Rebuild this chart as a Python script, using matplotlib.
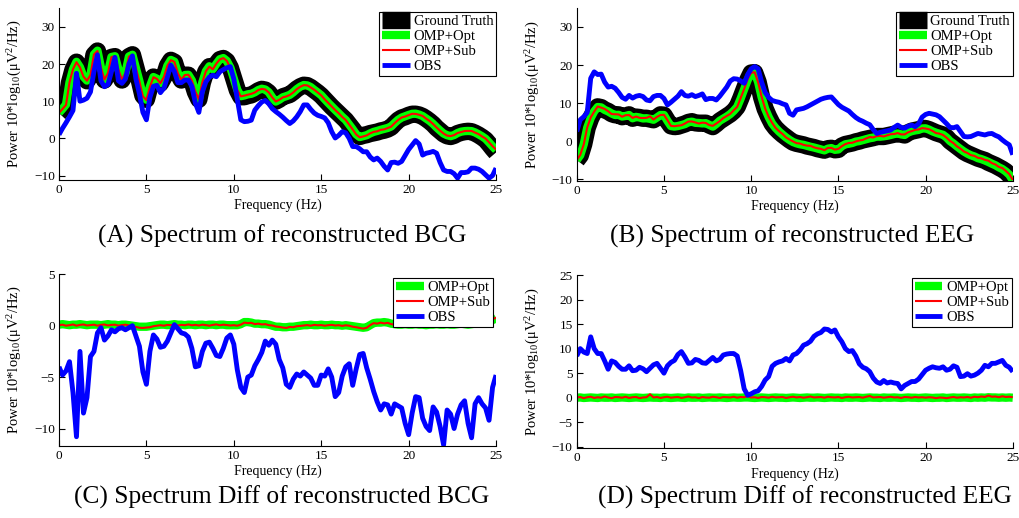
import numpy as np
import matplotlib
matplotlib.use('Agg')
import matplotlib.pyplot as plt

plt.rcParams['font.family'] = ['Liberation Serif', 'DejaVu Serif']
plt.rcParams['mathtext.fontset'] = 'custom'
plt.rcParams['mathtext.rm'] = 'Liberation Serif'
plt.rcParams['mathtext.it'] = 'Liberation Serif:italic'

# frequency axis, 0.2 Hz steps from 0 to 25 Hz
freq = np.arange(126) * 0.2

# (A) BCG spectrum, dB
gt_bcg = [6.8, 7.8, 9.0, 15.0, 18.5, 20.5, 19.0, 16.5, 15.5, 17.0,
          22.5, 23.5, 19.0, 15.7, 17.5, 21.8, 22.0, 18.5, 15.7, 17.5,
          22.0, 22.5, 19.0, 15.5, 11.5, 10.5, 14.0, 16.5, 16.0, 14.8,
          16.5, 19.5, 21.0, 20.5, 17.5, 15.7, 17.0, 17.0, 15.5, 12.5,
          10.5, 15.0, 18.0, 19.3, 18.5, 20.0, 21.2, 21.5, 20.8, 19.0,
          16.0, 13.0, 11.2, 11.2, 11.5, 11.7, 12.2, 12.8, 13.2, 13.0,
          12.3, 11.0, 10.0, 10.5, 11.2, 11.5, 11.8, 12.5, 13.3, 13.9,
          14.3, 14.2, 13.7, 13.0, 12.3, 11.5, 10.5, 9.5, 8.5, 7.6,
          6.7, 5.8, 4.9, 3.7, 2.5, 1.2, 0.5, 0.8, 1.0, 1.3,
          1.5, 1.7, 2.0, 2.2, 2.5, 3.0, 4.0, 4.9, 5.5, 5.8,
          6.2, 6.5, 6.5, 6.3, 5.9, 5.3, 4.6, 3.8, 2.8, 2.0,
          1.2, 0.7, 0.5, 0.8, 1.3, 1.6, 1.8, 1.9, 1.8, 1.4,
          0.9, 0.3, -0.4, -1.5, -2.7, -3.8]
obs_bcg = [1.0, 2.7, 4.2, 5.8, 7.5, 17.5, 10.0, 10.3, 10.8, 12.5,
           18.0, 22.5, 15.5, 13.9, 14.5, 18.0, 21.8, 15.5, 14.8, 16.0,
           20.0, 22.2, 16.0, 12.0, 7.0, 5.0, 11.0, 14.0, 14.3, 12.3,
           13.5, 16.5, 19.7, 18.0, 15.0, 15.0, 15.7, 15.7, 14.0, 9.5,
           7.0, 12.5, 15.2, 16.5, 17.0, 16.6, 17.9, 18.5, 19.0, 19.3,
           16.0, 10.5, 5.0, 4.5, 4.6, 4.9, 7.6, 8.8, 9.8, 10.2,
           9.3, 8.0, 7.2, 6.5, 5.7, 4.8, 4.0, 4.7, 5.8, 7.2,
           9.0, 9.0, 7.8, 6.8, 6.2, 5.9, 5.5, 4.2, 1.8, 0.1,
           0.8, 1.8, 1.5, 0.0, -2.2, -2.2, -2.8, -3.6, -3.6, -5.0,
           -5.8, -5.3, -6.2, -7.5, -8.5, -6.5, -6.4, -6.7, -6.2, -4.6,
           -3.0, -1.8, -0.6, -1.5, -4.5, -4.0, -3.8, -3.5, -4.0, -6.5,
           -8.5, -8.9, -8.9, -9.5, -10.7, -9.2, -9.2, -9.0, -8.0, -8.0,
           -8.3, -8.9, -9.8, -10.7, -10.0, -8.0]

# (B) EEG spectrum, dB
gt_eeg = [-5.0, -3.8, -0.8, 3.5, 6.0, 7.8, 9.0, 8.8, 8.2, 7.8,
          7.2, 6.9, 6.9, 6.4, 6.6, 6.9, 6.0, 6.3, 6.2, 6.0,
          6.0, 5.8, 5.6, 6.2, 6.9, 6.8, 5.3, 4.0, 3.8, 3.9,
          4.2, 4.5, 4.9, 5.1, 4.8, 4.7, 4.7, 4.7, 4.2, 3.8,
          4.5, 5.3, 5.9, 6.5, 7.1, 7.9, 9.0, 11.2, 13.6, 16.0,
          17.9, 18.0, 15.5, 11.5, 8.5, 6.4, 4.6, 3.4, 2.5, 1.7,
          1.0, 0.3, -0.3, -0.6, -0.8, -1.0, -1.3, -1.5, -1.7, -2.0,
          -2.2, -2.4, -2.0, -1.9, -2.3, -2.2, -1.3, -0.9, -0.7, -0.5,
          -0.2, 0.0, 0.3, 0.5, 0.7, 0.9, 1.2, 1.2, 1.2, 1.4,
          1.6, 1.8, 2.0, 1.8, 1.6, 2.2, 2.6, 2.8, 3.0, 3.3,
          3.3, 3.0, 2.6, 2.2, 1.9, 1.6, 1.0, 0.0, -0.7, -1.4,
          -2.1, -2.8, -3.3, -3.7, -4.1, -4.5, -4.8, -5.1, -5.6, -6.0,
          -6.4, -6.9, -7.4, -8.0, -8.9, -10.3]
obs_eeg = [2.5, 5.6, 6.4, 7.5, 16.5, 18.2, 17.5, 17.6, 15.5, 14.2,
           14.4, 13.9, 12.8, 11.5, 11.0, 12.0, 11.3, 11.8, 12.0, 11.7,
           10.8, 10.6, 11.7, 12.0, 12.0, 11.2, 9.5, 10.2, 11.0, 11.8,
           13.0, 12.0, 11.8, 12.2, 11.7, 12.0, 12.4, 10.9, 11.2, 11.2,
           10.8, 11.8, 13.0, 14.2, 15.8, 16.4, 16.3, 15.8, 15.2, 17.5,
           19.0, 19.6, 19.0, 15.5, 12.8, 11.5, 10.7, 10.4, 10.2, 9.8,
           9.5, 7.3, 6.8, 8.2, 8.4, 8.6, 9.0, 9.5, 10.0, 10.5,
           11.0, 11.3, 11.5, 11.6, 10.6, 9.6, 8.9, 8.4, 7.9, 7.0,
           6.2, 5.6, 5.2, 4.7, 4.3, 3.0, 2.0, 2.3, 2.5, 2.7,
           2.9, 3.6, 4.2, 3.6, 3.4, 3.9, 4.2, 3.8, 4.5, 6.3,
           7.0, 7.3, 7.1, 6.9, 6.4, 5.5, 4.6, 3.6, 3.5, 3.8,
           2.5, 1.2, 1.1, 1.2, 1.6, 2.0, 1.8, 1.6, 1.9, 2.0,
           1.5, 1.1, 0.3, -0.4, -1.0, -3.6]

# (C) differences to ground truth, BCG
opt_diff_bcg = [0.10, 0.15, 0.10, 0.05, 0.10, 0.10, 0.15, 0.10, 0.05, 0.10,
                0.10, 0.10, 0.05, 0.10, 0.15, 0.10, 0.10, 0.05, 0.10, 0.10,
                0.05, 0.00, -0.05, -0.10, -0.10, -0.10, -0.05, 0.00, 0.05, 0.10,
                0.10, 0.05, 0.10, 0.15, 0.10, 0.10, 0.05, 0.10, 0.10, 0.05,
                0.10, 0.10, 0.05, 0.10, 0.10, 0.05, 0.10, 0.10, 0.05, 0.05,
                0.05, 0.05, 0.15, 0.35, 0.35, 0.30, 0.20, 0.20, 0.15, 0.15,
                0.10, 0.00, -0.10, -0.10, -0.15, -0.15, -0.10, -0.10, -0.05, 0.00,
                0.05, 0.05, 0.10, 0.05, 0.05, 0.10, 0.05, 0.05, 0.10, 0.05,
                0.05, 0.00, 0.05, 0.00, -0.05, -0.10, -0.15, -0.20, -0.15, 0.05,
                0.25, 0.30, 0.30, 0.35, 0.30, 0.20, 0.15, 0.10, 0.10, 0.15,
                0.10, 0.10, 0.15, 0.10, 0.10, 0.05, 0.10, 0.10, 0.15, 0.10,
                0.10, 0.15, 0.10, 0.10, 0.15, 0.20, 0.15, 0.10, 0.15, 0.20,
                0.20, 0.25, 0.30, 0.40, 0.55, 0.70]
sub_diff_bcg = [0.05, 0.10, 0.00, 0.05, 0.12, 0.00, 0.08, 0.12, 0.02, 0.06,
                0.10, 0.00, 0.08, 0.12, 0.02, 0.08, 0.10, 0.00, 0.06, 0.10,
                0.02, -0.05, -0.12, -0.20, -0.22, -0.18, -0.15, -0.05, 0.00, 0.05,
                0.00, 0.08, 0.05, 0.10, 0.02, 0.08, 0.05, 0.12, 0.04, 0.08,
                0.02, 0.10, 0.06, 0.00, 0.08, 0.12, 0.04, 0.10, 0.06, 0.02,
                0.05, 0.00, 0.10, 0.30, 0.25, 0.28, 0.15, 0.20, 0.12, 0.15,
                0.05, 0.02, -0.08, -0.12, -0.18, -0.22, -0.12, -0.15, -0.05, -0.02,
                0.02, 0.06, 0.00, 0.08, 0.04, 0.06, 0.00, 0.05, 0.08, 0.02,
                0.05, -0.02, 0.04, 0.00, -0.10, -0.15, -0.22, -0.28, -0.20, 0.05,
                0.25, 0.20, 0.30, 0.22, 0.28, 0.15, 0.10, 0.05, 0.12, 0.08,
                0.05, 0.12, 0.08, 0.05, 0.12, 0.00, 0.08, 0.05, 0.12, 0.06,
                0.10, 0.05, 0.12, 0.08, 0.15, 0.10, 0.18, 0.12, 0.20, 0.15,
                0.25, 0.22, 0.35, 0.45, 0.60, 0.80]
obs_diff_bcg = [-4.0, -4.8, -4.4, -3.5, -6.5, -10.8, -2.5, -8.5, -7.0, -3.0,
                -2.5, -0.7, -0.2, -1.4, -1.0, -0.4, -0.6, -0.3, -0.2, -0.4,
                -0.2, 0.0, -1.0, -2.0, -4.5, -5.7, -2.5, -0.9, -1.3, -2.1,
                -2.0, -1.5, -0.7, 0.1, -0.3, -0.7, -0.8, -1.1, -2.2, -4.0,
                -3.9, -2.5, -1.7, -1.6, -2.2, -2.9, -3.0, -2.2, -1.2, -0.9,
                -1.8, -4.3, -6.0, -6.5, -5.0, -4.8, -3.9, -3.3, -2.6, -1.5,
                -1.9, -1.4, -1.8, -3.3, -4.1, -5.7, -6.0, -5.2, -4.7, -4.9,
                -4.5, -4.8, -5.1, -5.8, -5.8, -4.8, -4.9, -4.2, -5.0, -6.9,
                -6.5, -4.9, -4.0, -3.7, -5.8, -4.2, -2.8, -2.7, -4.1, -5.2,
                -6.4, -7.4, -8.2, -7.6, -7.7, -8.6, -7.6, -7.8, -8.0, -9.5,
                -10.6, -8.5, -6.9, -7.0, -9.0, -9.8, -10.2, -7.9, -8.4, -9.8,
                -11.6, -8.2, -8.6, -10.0, -8.6, -7.7, -7.3, -9.5, -10.9, -7.6,
                -7.0, -7.6, -8.0, -9.2, -6.0, -4.8]

# (D) differences to ground truth, EEG
opt_diff_eeg = [0.00, 0.05, -0.05, 0.00, 0.05, 0.00, -0.05, 0.05, 0.00, 0.00,
                0.05, -0.05, 0.00, 0.05, 0.00, -0.05, 0.00, 0.05, 0.00, -0.05,
                0.00, 0.05, 0.00, 0.00, -0.05, 0.05, 0.00, -0.05, 0.00, 0.05,
                0.00, -0.05, 0.05, 0.00, 0.00, 0.05, -0.05, 0.00, 0.05, 0.00,
                0.00, 0.05, 0.00, -0.05, 0.00, 0.05, 0.00, 0.00, 0.05, 0.05,
                0.00, -0.05, 0.00, 0.05, 0.00, -0.05, 0.00, 0.05, 0.00, 0.00,
                -0.05, 0.00, 0.05, 0.00, -0.05, 0.00, 0.05, 0.00, 0.00, 0.05,
                0.00, -0.05, 0.00, 0.05, 0.00, 0.00, -0.05, 0.05, 0.00, 0.00,
                0.05, 0.00, -0.05, 0.00, 0.05, 0.00, 0.00, -0.05, 0.05, 0.00,
                0.00, 0.05, 0.00, -0.05, 0.00, 0.05, 0.00, 0.00, -0.05, 0.00,
                0.05, 0.00, -0.05, 0.00, 0.00, 0.05, -0.05, 0.00, 0.05, 0.00,
                0.00, 0.05, 0.00, -0.05, 0.05, 0.00, 0.05, 0.00, 0.10, 0.05,
                0.05, 0.00, 0.05, 0.00, 0.05, 0.00]
sub_diff_eeg = [0.05, 0.15, -0.10, 0.10, 0.20, -0.05, 0.10, 0.00, 0.25, 0.05,
                -0.10, 0.15, 0.10, 0.00, 0.20, -0.05, 0.10, 0.15, -0.10, 0.05,
                0.10, 0.70, 0.05, 0.15, -0.05, 0.10, 0.20, 0.00, 0.10, 0.15,
                -0.05, 0.10, 0.25, 0.05, 0.10, -0.10, 0.15, 0.05, 0.00, 0.20,
                0.10, -0.05, 0.15, 0.10, 0.05, 0.20, 0.00, 0.15, 0.10, 0.30,
                0.05, 0.10, -0.05, 0.15, 0.10, 0.00, 0.20, 0.05, 0.10, 0.15,
                -0.05, 0.10, 0.20, 0.05, 0.15, 0.00, 0.10, 0.25, 0.05, 0.10,
                0.15, 0.00, 0.20, 0.10, 0.05, 0.15, -0.05, 0.10, 0.20, 0.05,
                0.10, 0.15, 0.00, 0.20, 0.35, 0.05, 0.10, 0.15, 0.00, 0.10,
                0.20, 0.05, 0.10, -0.05, 0.15, 0.10, 0.00, 0.15, 0.05, 0.10,
                0.00, 0.10, 0.05, -0.10, 0.05, 0.00, -0.10, 0.05, 0.15, 0.00,
                0.10, 0.05, 0.15, 0.00, 0.20, 0.10, 0.25, 0.15, 0.45, 0.20,
                0.25, 0.10, 0.30, 0.15, 0.20, 0.10]
obs_diff_eeg = [8.5, 10.0, 9.3, 9.0, 12.4, 10.0, 9.0, 9.0, 7.5, 5.8,
                7.5, 7.2, 6.4, 5.8, 5.8, 6.5, 5.5, 5.6, 6.2, 5.9,
                5.3, 6.0, 6.7, 7.0, 6.0, 5.0, 6.5, 7.2, 7.6, 8.8,
                9.4, 8.3, 7.0, 7.1, 7.8, 7.6, 7.1, 7.0, 7.6, 8.2,
                7.5, 7.8, 8.7, 8.9, 9.0, 9.0, 8.5, 5.5, 1.8, 0.5,
                0.8, 1.2, 1.4, 2.3, 3.6, 4.3, 6.4, 7.0, 7.3, 7.5,
                8.0, 7.5, 8.7, 9.0, 9.7, 10.7, 11.0, 11.5, 12.5, 13.0,
                13.3, 14.0, 13.9, 13.4, 13.8, 12.4, 11.4, 10.0, 9.4, 9.6,
                8.5, 6.9, 6.2, 5.9, 5.3, 4.0, 3.2, 2.9, 3.5, 3.0,
                3.2, 3.0, 2.9, 1.8, 2.5, 2.9, 3.3, 3.3, 3.8, 4.7,
                5.6, 6.0, 6.3, 6.1, 6.0, 6.3, 5.6, 5.8, 6.5, 6.2,
                4.3, 4.4, 4.9, 4.4, 4.6, 5.0, 5.6, 6.6, 6.3, 7.0,
                7.0, 7.3, 7.6, 6.6, 6.2, 5.3]

captions = ['(A) Spectrum of reconstructed BCG', '(B) Spectrum of reconstructed EEG',
            '(C) Spectrum Diff of reconstructed BCG', '(D) Spectrum Diff of reconstructed EEG']
ylab = 'Power 10*log$_{10}$(\u03bcV$^2$/Hz)'

GREEN = (0, 1, 0)
line_kw = dict(solid_joinstyle='round', solid_capstyle='butt')


def style_axis(ax, ylim, yticks):
    ax.set_xlim(0, 25)
    ax.set_ylim(ylim)
    ax.set_xticks([0, 5, 10, 15, 20, 25])
    ax.set_yticks(yticks)
    ax.spines['top'].set_visible(False)
    ax.spines['right'].set_visible(False)
    for s in ['left', 'bottom']:
        ax.spines[s].set_linewidth(0.8)
    ax.tick_params(direction='in', length=4, width=0.8, labelsize=9.5)
    ax.tick_params(axis='x', pad=3)
    ax.tick_params(axis='y', pad=3)
    ax.set_xlabel('Frequency (Hz)', fontsize=10, labelpad=2)
    ax.set_ylabel(ylab, fontsize=10.5)
    ax.yaxis.set_label_coords(-0.079, 0.5)


def add_legend(ax, anchor):
    leg = ax.legend(loc='upper right', bbox_to_anchor=anchor, borderaxespad=0, fontsize=10.5,
                    fancybox=False, edgecolor='k', framealpha=1, handlelength=1.9,
                    handletextpad=0.25, borderpad=0.2, labelspacing=0.12)
    leg.get_frame().set_linewidth(0.8)


fig = plt.figure(figsize=(10.19, 5.18), dpi=100)

ax_a = fig.add_axes([0.0579, 0.6525, 0.4289, 0.3315])
ax_b = fig.add_axes([0.5660, 0.6506, 0.4279, 0.3340])
ax_c = fig.add_axes([0.0579, 0.1390, 0.4289, 0.3315])
ax_d = fig.add_axes([0.5660, 0.1346, 0.4279, 0.3345])

# top row: spectra
for ax, gt, obs, od, sd in [(ax_a, gt_bcg, obs_bcg, opt_diff_bcg, sub_diff_bcg),
                            (ax_b, gt_eeg, obs_eeg, opt_diff_eeg, sub_diff_eeg)]:
    gt = np.array(gt)
    ax.plot(freq, gt, color='k', lw=12.5, label='Ground Truth', **line_kw)
    ax.plot(freq, gt + np.array(od), color=GREEN, lw=6, label='OMP+Opt', **line_kw)
    ax.plot(freq, gt + np.array(sd), color='r', lw=1.5, label='OMP+Sub', **line_kw)
    ax.plot(freq, obs, color='b', lw=3.5, label='OBS', **line_kw)

style_axis(ax_a, (-11.2, 35), [-10, 0, 10, 20, 30])
style_axis(ax_b, (-10.5, 35), [-10, 0, 10, 20, 30])
add_legend(ax_a, (1.0, 0.978))
add_legend(ax_b, (1.0, 0.978))

# bottom row: differences
for ax, od, sd, obd in [(ax_c, opt_diff_bcg, sub_diff_bcg, obs_diff_bcg),
                        (ax_d, opt_diff_eeg, sub_diff_eeg, obs_diff_eeg)]:
    ax.plot(freq, od, color=GREEN, lw=6, label='OMP+Opt', **line_kw)
    ax.plot(freq, sd, color='r', lw=1.5, label='OMP+Sub', **line_kw)
    ax.plot(freq, obd, color='b', lw=3.5, label='OBS', **line_kw)

style_axis(ax_c, (-11.7, 5), [-10, -5, 0, 5])
style_axis(ax_d, (-10.3, 25), [-10, -5, 0, 5, 10, 15, 20, 25])
add_legend(ax_c, (0.993, 0.978))
add_legend(ax_d, (0.998, 0.983))

fig.text(0.2767, 0.5444, captions[0], ha='center', va='center', fontsize=18.3)
fig.text(0.777, 0.5444, captions[1], ha='center', va='center', fontsize=18.3)
fig.text(0.2767, 0.0405, captions[2], ha='center', va='center', fontsize=18.3)
fig.text(0.790, 0.0405, captions[3], ha='center', va='center', fontsize=18.3)

fig.savefig('out.png', dpi=100)
